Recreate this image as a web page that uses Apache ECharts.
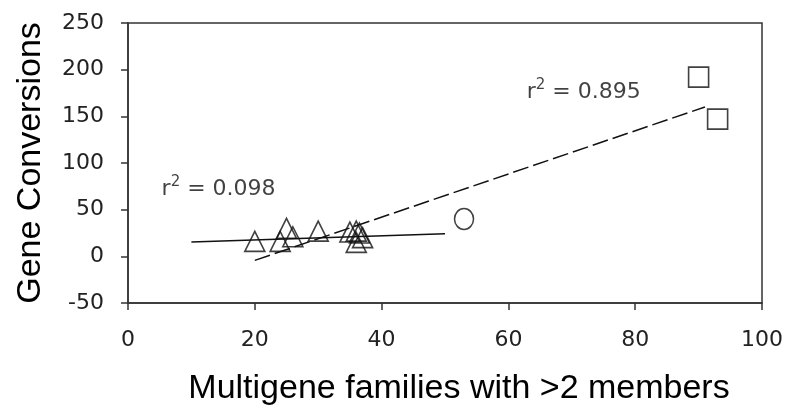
<!DOCTYPE html>
<html>
<head>
<meta charset="utf-8">
<script src="https://cdn.jsdelivr.net/npm/echarts@6/dist/echarts.min.js"></script>
<style>
  html, body { margin: 0; padding: 0; background: #fff; }
  #chart { width: 786px; height: 411px; }
</style>
</head>
<body>
<div id="chart"></div>
<script>
// Multigene families (x) vs. gene conversions (y)
const triangles = [
  [20, 16], [24, 16], [25, 30], [26, 21], [30, 27],
  [35, 26], [36, 27], [36.5, 25], [36, 15], [37, 20]
];
const circles = [[53, 40]];
const squares = [[90, 192], [93, 147]];

// Fitted trend lines (end points)
const fitLow = [[10, 15.3], [50, 24.1]];
const fitAll = [[20, -4.3], [91, 160]];

// r² annotations: [x, y, value]
const r2Labels = [[5.3, 74, '0.098'], [62.9, 178, '0.895']];

const xTicks = { min: 0, max: 100, interval: 20 };
const yTicks = { min: -50, max: 250, interval: 50 };

const TITLE_FONT = '"Liberation Sans", Arial, sans-serif';
const TICK_FONT = '"DejaVu Sans", sans-serif';
const AXIS_COLOR = '#333';

const hollow = { color: 'transparent', borderColor: '#111', borderWidth: 1.6 };

const chart = echarts.init(document.getElementById('chart'), null, { renderer: 'canvas' });

chart.setOption({
  animation: false,
  backgroundColor: '#fff',
  grid: {
    left: 128, right: 23, top: 23, bottom: 106,
    show: true, borderColor: AXIS_COLOR, borderWidth: 1.5
  },
  xAxis: {
    type: 'value',
    min: xTicks.min, max: xTicks.max, interval: xTicks.interval,
    name: 'Multigene families with >2 members',
    nameLocation: 'middle',
    nameGap: 69,
    nameTextStyle: { fontFamily: TITLE_FONT, fontSize: 34, color: '#000', padding: [0, 0, 0, 28] },
    axisLine: { show: true, onZero: false, lineStyle: { color: AXIS_COLOR, width: 1.5 } },
    axisTick: { show: true, length: 7, lineStyle: { color: AXIS_COLOR, width: 1.5 } },
    axisLabel: { fontFamily: TICK_FONT, fontSize: 22, color: '#222', margin: 26 },
    splitLine: { show: false }
  },
  yAxis: {
    type: 'value',
    min: yTicks.min, max: yTicks.max, interval: yTicks.interval,
    name: 'Gene Conversions',
    nameLocation: 'middle',
    nameGap: 80,
    nameTextStyle: { fontFamily: TITLE_FONT, fontSize: 34, color: '#000' },
    axisLine: { show: true, onZero: false, lineStyle: { color: AXIS_COLOR, width: 1.5 } },
    axisTick: { show: true, length: 7, lineStyle: { color: AXIS_COLOR, width: 1.5 } },
    axisLabel: { fontFamily: TICK_FONT, fontSize: 22, color: '#222', margin: 24 },
    splitLine: { show: false }
  },
  series: [
    {
      type: 'line', data: fitLow, symbol: 'none', z: 2,
      lineStyle: { color: '#111', width: 1.5, type: 'solid' }
    },
    {
      type: 'line', data: fitAll, symbol: 'none', z: 2,
      lineStyle: { color: '#111', width: 1.5, type: [16, 5] }
    },
    {
      type: 'scatter', data: triangles, symbol: 'triangle', symbolSize: 20, z: 3,
      itemStyle: hollow
    },
    {
      type: 'scatter', data: circles, symbol: 'circle', symbolSize: [19, 21], z: 3,
      itemStyle: hollow
    },
    {
      type: 'scatter', data: squares, symbol: 'rect', symbolSize: 20, z: 3,
      itemStyle: hollow
    },
    {
      type: 'scatter', data: r2Labels, symbolSize: 0, z: 4, silent: true,
      label: {
        show: true, position: 'right', distance: 0,
        formatter: p => '{r|r}{s|2}{t| = ' + p.value[2] + '}',
        rich: {
          r: { fontFamily: TICK_FONT, fontSize: 22, color: '#111', lineHeight: 26, verticalAlign: 'bottom' },
          s: { fontFamily: TICK_FONT, fontSize: 15, color: '#111', lineHeight: 10, verticalAlign: 'top' },
          t: { fontFamily: TICK_FONT, fontSize: 22, color: '#111', lineHeight: 26, verticalAlign: 'bottom' }
        }
      }
    }
  ]
});
</script>
</body>
</html>
